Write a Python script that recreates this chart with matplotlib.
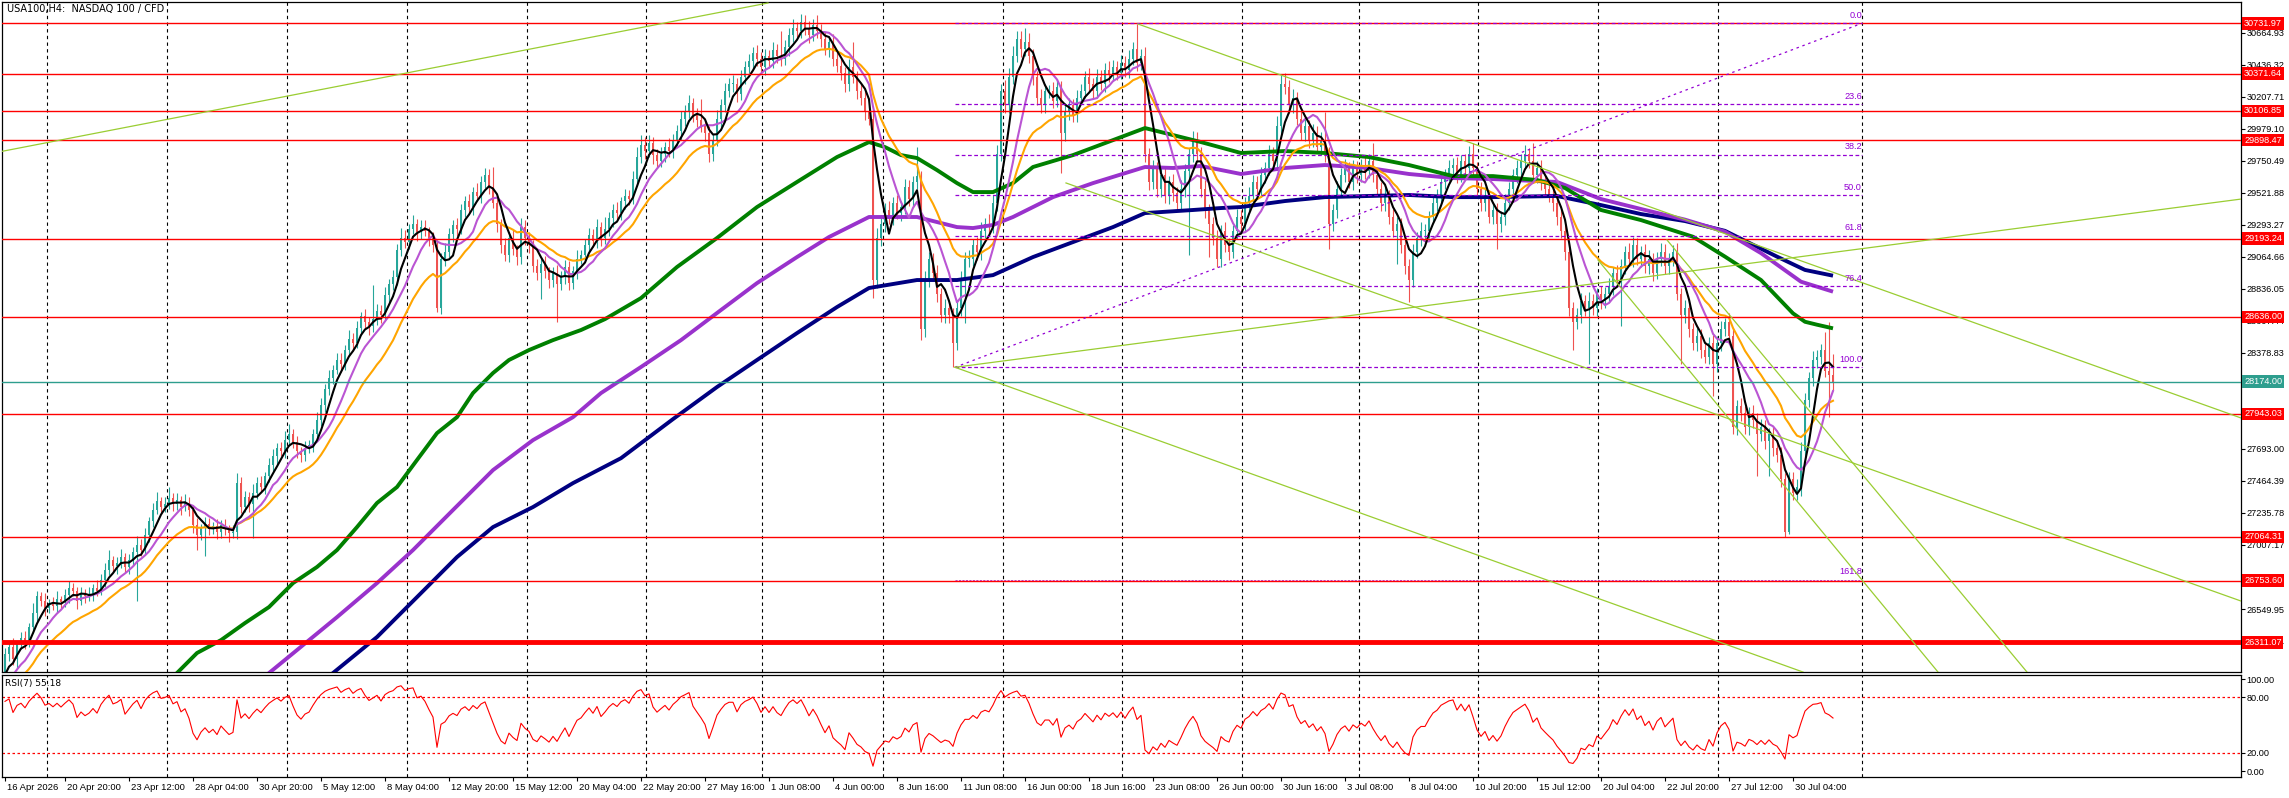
import numpy as np
import pandas as pd
import matplotlib
matplotlib.use("Agg")
import matplotlib.pyplot as plt
from matplotlib.transforms import blended_transform_factory, ScaledTranslation

# H4 closes before the visible window (only seed the averages / RSI)
pre_closes = [25820, 25760, 25700, 25780, 25740, 25820, 25880, 25850, 25800, 25870,
              25930, 25900, 25960, 25920, 25980, 26030, 25990, 26060, 26020, 26100]

# visible H4 closes, read bar by bar
closes = [
    26230, 26280, 26190, 26300, 26340, 26310, 26420, 26520, 26640, 26610, 26560, 26590, 26570, 26620, 26600, 26650, 26700, 26680, 26610, 26660,
    26640, 26660, 26700, 26680, 26760, 26830, 26900, 26860, 26880, 26920, 26850, 26900, 26960, 27010, 26970, 27080, 27180, 27260, 27320, 27280,
    27300, 27340, 27300, 27330, 27280, 27310, 27260, 27150, 27080, 27130, 27160, 27120, 27140, 27100, 27150, 27120, 27090, 27100, 27450, 27280,
    27350, 27300, 27380, 27450, 27420, 27500, 27580, 27640, 27700, 27680, 27760, 27800, 27740, 27680, 27650, 27700, 27720, 27800, 27900, 28010,
    28120, 28200, 28260, 28330, 28300, 28400, 28480, 28450, 28560, 28640, 28600, 28570, 28620, 28680, 28650, 28790, 28870, 28920, 29110, 29200,
    29170, 29260, 29300, 29240, 29280, 29250, 29200, 29150, 28700, 29050, 29100, 29230, 29290, 29260, 29400, 29460, 29420, 29530, 29500, 29600,
    29650, 29560, 29450, 29300, 29150, 29080, 29200, 29120, 29060, 29280, 29200, 29150, 29000, 28950, 29010, 28960, 28900, 28950, 28870, 28930,
    28990, 28880, 28960, 29050, 29080, 29150, 29220, 29180, 29280, 29200, 29260, 29340, 29400, 29380, 29460, 29500, 29480, 29620, 29780, 29860,
    29820, 29880, 29790, 29750, 29800, 29850, 29820, 29900, 29960, 30050, 30100, 30160, 30080, 30040, 30000, 29950, 29800, 29900, 30050, 30150,
    30250, 30300, 30300, 30230, 30350, 30420, 30460, 30520, 30480, 30420, 30500, 30460, 30540, 30500, 30480, 30560, 30650, 30700, 30680, 30740,
    30700, 30650, 30720, 30680, 30620, 30550, 30600, 30480, 30430, 30380, 30300, 30420, 30350, 30250, 30200, 30100, 30050, 28900, 29200, 29300,
    29400, 29350, 29450, 29380, 29420, 29560, 29480, 29600, 29640, 28550, 28900, 29050, 28950, 28800, 28650, 28700, 28650, 28450, 28700, 28900,
    29050, 29050, 29150, 29100, 29250, 29300, 29280, 29450, 29800, 30250, 30150, 30350, 30500, 30620, 30550, 30600, 30500, 30350, 30200, 30150,
    30250, 30250, 30180, 30280, 29950, 30100, 30150, 30080, 30200, 30250, 30350, 30300, 30250, 30350, 30300, 30400, 30370, 30420, 30380, 30450,
    30400, 30480, 30550, 30450, 30500, 29800, 29600, 29700, 29550, 29650, 29500, 29600, 29520, 29450, 29550, 29680, 29800, 29900, 29800, 29550,
    29400, 29300, 29200, 29050, 29250, 29150, 29100, 29250, 29350, 29300, 29450, 29500, 29600, 29550, 29650, 29700, 29800, 29750, 30000, 30300,
    30280, 30150, 30200, 30050, 29950, 30000, 29900, 29950, 29850, 29900, 29800, 29300, 29400, 29550, 29650, 29700, 29600, 29700, 29650, 29720,
    29680, 29750, 29650, 29550, 29450, 29500, 29350, 29250, 29300, 29150, 29000, 28900, 29100, 29200, 29250, 29250, 29350, 29450, 29500, 29600,
    29650, 29700, 29720, 29650, 29750, 29700, 29800, 29700, 29550, 29450, 29500, 29350, 29400, 29300, 29350, 29450, 29550, 29650, 29700, 29750,
    29800, 29750, 29650, 29700, 29600, 29550, 29500, 29450, 29350, 29250, 29100, 28700, 28600, 28650, 28750, 28700, 28750, 28700, 28800, 28750,
    28800, 28850, 28950, 28900, 29000, 29100, 29050, 29150, 29050, 29100, 29000, 29050, 28950, 29050, 29100, 29000, 29050, 29100, 28800, 28650,
    28700, 28550, 28450, 28500, 28400, 28350, 28450, 28300, 28450, 28550, 28600, 28500, 27850, 28000, 27950, 27850, 27950, 27900, 27800, 27850,
    27750, 27800, 27700, 27650, 27480, 27100, 27480, 27380, 27420, 27680, 28040, 28200, 28330, 28350, 28400, 28250, 28220, 28174,
]

# upper / lower shadow length of every candle (price points)
wick_up = [
    40, 30, 60, 25, 45, 50, 30, 70, 40, 35, 55, 30, 45, 60, 25, 40, 50, 35, 30, 45,
    35, 50, 30, 60, 40, 45, 70, 30, 40, 55, 30, 45, 35, 60, 40, 50, 30, 45, 65, 30,
    50, 80, 35, 45, 30, 60, 40, 35, 50, 30, 45, 40, 30, 55, 35, 45, 30, 50, 70, 40,
    45, 35, 60, 40, 50, 30, 45, 55, 35, 40, 60, 70, 35, 45, 30, 50, 40, 35, 60, 45,
    40, 55, 30, 45, 50, 35, 60, 40, 45, 30, 50, 35, 240, 45, 40, 60, 35, 50, 45, 70,
    55, 40, 60, 35, 45, 50, 30, 40, 35, 45, 60, 40, 35, 50, 45, 40, 55, 35, 60, 45,
    50, 40, 146, 45, 35, 50, 40, 55, 30, 60, 45, 40, 35, 50, 45, 60, 30, 40, 55, 35,
    50, 45, 40, 60, 35, 45, 50, 40, 55, 30, 90, 45, 40, 55, 35, 50, 45, 60, 70, 75,
    60, 55, 40, 45, 50, 35, 60, 40, 45, 55, 50, 60, 40, 45, 150, 40, 50, 45, 60, 40,
    55, 45, 60, 40, 50, 45, 55, 40, 60, 45, 50, 40, 55, 45, 180, 50, 45, 60, 40, 55,
    50, 45, 40, 70, 45, 50, 40, 55, 45, 50, 40, 60, 180, 45, 50, 60, 40, 55, 70, 60,
    50, 60, 45, 55, 40, 60, 50, 45, 210, 40, 60, 50, 45, 55, 40, 60, 45, 50, 55, 60,
    50, 60, 45, 55, 60, 40, 70, 55, 60, 50, 80, 60, 70, 60, 55, 100, 60, 50, 45, 60,
    50, 45, 60, 55, 40, 60, 50, 45, 55, 50, 40, 60, 45, 55, 50, 45, 60, 50, 45, 55,
    50, 60, 45, 180, 50, 60, 45, 55, 40, 60, 50, 45, 55, 40, 60, 50, 45, 60, 55, 50,
    60, 45, 50, 55, 40, 60, 50, 45, 55, 50, 45, 60, 50, 40, 55, 45, 60, 50, 70, 60,
    80, 50, 60, 45, 55, 50, 45, 60, 50, 55, 200, 50, 45, 55, 50, 60, 45, 55, 50, 45,
    55, 50, 130, 45, 50, 60, 45, 55, 50, 45, 60, 50, 55, 45, 60, 50, 45, 55, 50, 60,
    45, 55, 50, 60, 45, 50, 55, 80, 45, 50, 60, 45, 55, 50, 45, 60, 50, 45, 55, 50,
    60, 45, 130, 50, 55, 45, 50, 60, 45, 55, 50, 60, 45, 50, 55, 45, 60, 50, 45, 55,
    50, 60, 45, 55, 50, 45, 60, 55, 50, 45, 55, 60, 45, 50, 60, 55, 45, 50, 60, 45,
    55, 50, 45, 60, 50, 55, 45, 60, 50, 55, 30, 60, 50, 45, 55, 50, 45, 60, 50, 55,
    50, 45, 60, 50, 55, 40, 50, 45, 55, 60, 50, 45, 60, 50, 45, 130, 350, 150,
]
wick_dn = [
    30, 50, 40, 60, 35, 45, 30, 40, 55, 35, 60, 40, 30, 50, 45, 35, 55, 40, 60, 30,
    45, 35, 50, 40, 30, 55, 40, 45, 60, 35, 40, 50, 45, 350, 40, 35, 50, 45, 30, 55,
    40, 35, 50, 45, 60, 30, 45, 55, 110, 40, 200, 45, 35, 50, 40, 45, 60, 35, 50, 45,
    40, 55, 240, 45, 35, 50, 40, 45, 60, 35, 50, 45, 40, 55, 50, 45, 35, 50, 40, 45,
    55, 40, 45, 35, 60, 45, 40, 55, 35, 50, 45, 60, 40, 45, 55, 35, 50, 45, 60, 40,
    45, 50, 35, 60, 45, 40, 55, 50, 30, 45, 50, 40, 60, 45, 35, 50, 45, 55, 40, 50,
    45, 50, 40, 55, 60, 45, 50, 40, 55, 45, 50, 60, 45, 50, 190, 45, 55, 50, 270, 45,
    60, 50, 45, 55, 40, 50, 60, 45, 50, 55, 45, 50, 60, 45, 50, 55, 45, 40, 50, 45,
    55, 45, 60, 50, 45, 55, 40, 50, 45, 60, 50, 45, 55, 50, 45, 60, 55, 50, 45, 60,
    50, 45, 55, 60, 45, 50, 40, 55, 50, 45, 60, 50, 45, 55, 50, 45, 60, 50, 45, 55,
    50, 60, 45, 50, 55, 45, 60, 50, 45, 55, 60, 50, 45, 55, 50, 60, 45, 130, 60, 55,
    60, 50, 55, 45, 60, 50, 55, 60, 50, 80, 60, 50, 55, 60, 50, 55, 60, 175, 50, 60,
    310, 60, 50, 55, 60, 50, 55, 45, 60, 50, 60, 55, 50, 45, 60, 50, 55, 60, 50, 55,
    60, 50, 55, 45, 290, 55, 60, 50, 55, 45, 50, 60, 55, 50, 45, 55, 60, 50, 55, 45,
    50, 55, 45, 60, 50, 60, 55, 50, 60, 55, 50, 60, 55, 50, 45, 60, 600, 55, 50, 60,
    55, 240, 50, 60, 55, 50, 60, 45, 55, 50, 60, 55, 45, 50, 60, 55, 50, 45, 60, 55,
    50, 60, 55, 45, 50, 60, 55, 50, 45, 60, 55, 180, 50, 60, 55, 50, 45, 60, 55, 50,
    60, 55, 50, 45, 60, 55, 50, 45, 240, 60, 55, 160, 50, 45, 60, 55, 50, 45, 60, 55,
    50, 45, 60, 55, 50, 45, 60, 55, 50, 60, 55, 45, 50, 180, 55, 60, 50, 45, 55, 60,
    55, 50, 45, 60, 55, 50, 45, 60, 55, 50, 60, 55, 200, 50, 60, 55, 400, 50, 60, 55,
    50, 60, 55, 45, 330, 55, 50, 60, 45, 55, 50, 60, 55, 45, 50, 60, 55, 50, 45, 350,
    55, 60, 50, 55, 60, 45, 50, 230, 55, 60, 50, 55, 50, 60, 55, 50, 60, 55, 300, 50,
    60, 250, 55, 50, 60, 36, 15, 50, 55, 60, 45, 50, 55, 60, 50, 45, 300, 60,
]

# long moving averages (history before the window)
ma_green_bars = [40, 43, 48, 54, 60, 66, 72, 78, 83, 88, 93, 98, 103, 108, 113, 117, 122, 126, 131, 137,
                 144, 150, 159, 168, 178, 188, 198, 208, 216, 220, 224, 228, 233, 238, 242, 247, 252, 257,
                 267, 277, 285, 292, 299, 309, 320, 330, 341, 351, 362, 372, 383, 390, 399, 409, 422, 430,
                 439, 447, 450, 453, 457]
ma_green = [26010, 26093, 26236, 26328, 26450, 26564, 26735, 26850, 26971, 27135, 27307, 27421, 27614, 27806,
            27920, 28092, 28235, 28328, 28399, 28470, 28542, 28620, 28770, 28992, 29199, 29420, 29599, 29777,
            29884, 29848, 29791, 29770, 29684, 29591, 29527, 29527, 29591, 29706, 29791, 29898, 29984, 29934,
            29884, 29806, 29820, 29806, 29777, 29720, 29641, 29641, 29613, 29556, 29399, 29327, 29208, 29066,
            28899, 28661, 28601, 28580, 28554]
ma_purple_bars = [63, 66, 73, 83, 93, 102, 112, 122, 132, 142, 149, 159, 169, 179, 188, 198, 206, 216, 228,
                  238, 242, 247, 252, 262, 272, 285, 292, 299, 309, 320, 330, 341, 351, 362, 372, 388, 399,
                  409, 420, 430, 439, 449, 457]
ma_purple = [26000, 26093, 26257, 26492, 26735, 26971, 27257, 27542, 27756, 27920, 28092, 28278, 28470, 28685,
             28877, 29063, 29206, 29349, 29349, 29277, 29270, 29292, 29349, 29491, 29591, 29706, 29699, 29713,
             29656, 29699, 29720, 29699, 29656, 29627, 29620, 29599, 29477, 29406, 29330, 29244, 29091, 28887,
             28816]
ma_navy_bars = [78, 82, 93, 103, 113, 122, 132, 142, 154, 167, 178, 188, 198, 208, 216, 228, 238, 247, 257,
                267, 277, 285, 297, 304, 309, 320, 330, 341, 351, 362, 372, 388, 399, 409, 420, 430, 443,
                450, 457]
ma_navy = [26000, 26093, 26350, 26635, 26921, 27135, 27278, 27449, 27627, 27906, 28135, 28328, 28520, 28706,
           28842, 28899, 28899, 28934, 29063, 29170, 29277, 29377, 29399, 29413, 29420, 29463, 29491, 29499,
           29506, 29491, 29491, 29499, 29434, 29370, 29320, 29250, 29066, 28971, 28930]

red_levels = [30731.97, 30371.64, 30106.85, 29898.47, 29193.24, 28636.00, 27943.03, 27064.31, 26753.60, 26311.07]
bold_level = 26311.07
last_price = 28174.00

fib_start, fib_end = 237.5, 464.25
fib_high, fib_low = 30731.97, 28276.0
fib_levels = [0.0, 23.6, 38.2, 50.0, 61.8, 76.4, 100.0, 161.8]

# trend lines: (bar0, price0, bar1, price1)
trend_lines = [
    (-1.25, 29815, 190.75, 30877),
    (283.25, 30727, 559.0, 27914),
    (237.5, 28276, 559.0, 29477),
    (237.5, 28276, 449.5, 26100),
    (265.25, 29592, 559.0, 26607),
    (398.25, 29042, 483.25, 26100),
    (415.5, 29185, 505.5, 26100),
]

grid_bars = [10.5, 40.5, 70.5, 100.5, 130.5, 160.25, 189.25, 219.5, 249.5, 279.25, 309.25,
             338.5, 368.25, 398.25, 428.25, 464.25]

x_labels = ["16 Apr 2026", "20 Apr 20:00", "23 Apr 12:00", "28 Apr 04:00", "30 Apr 20:00",
            "5 May 12:00", "8 May 04:00", "12 May 20:00", "15 May 12:00", "20 May 04:00",
            "22 May 20:00", "27 May 16:00", "1 Jun 08:00", "4 Jun 00:00", "8 Jun 16:00",
            "11 Jun 08:00", "16 Jun 00:00", "18 Jun 16:00", "23 Jun 08:00", "26 Jun 00:00",
            "30 Jun 16:00", "3 Jul 08:00", "8 Jul 04:00", "10 Jul 20:00", "15 Jul 12:00",
            "20 Jul 04:00", "22 Jul 20:00", "27 Jul 12:00", "30 Jul 04:00"]

n = len(closes)
if len(wick_up) != n or len(wick_dn) != n:
    raise ValueError(f"length mismatch {n} {len(wick_up)} {len(wick_dn)}")

plt.rcParams['font.family'] = ['Liberation Sans', 'DejaVu Sans']
AXIS_FS = 6.6

bars = np.arange(n)
c = np.array(closes, dtype=float)
o = np.array([pre_closes[-1]] + closes[:-1], dtype=float)
hi = np.maximum(o, c) + np.array(wick_up)
lo = np.minimum(o, c) - np.array(wick_dn)

full = pd.Series(pre_closes + closes, dtype=float)
k = len(pre_closes)
sma5 = full.rolling(5).mean().values[k:]
sma10 = full.rolling(10).mean().values[k:]
ema20 = full.ewm(span=20, adjust=False).mean().values[k:]
d = full.diff()
up = d.clip(lower=0).ewm(alpha=1 / 7, adjust=False).mean()
dn = (-d.clip(upper=0)).ewm(alpha=1 / 7, adjust=False).mean()
rsi = (100 - 100 / (1 + up / dn)).values[k:]

W, H = 2289, 798
fig = plt.figure(figsize=(W / 100, H / 100), dpi=100)
ax = fig.add_axes([2 / W, 1 - 672 / H, 2239 / W, 670 / H])
ax_rsi = fig.add_axes([2 / W, 1 - 777 / H, 2239 / W, 102 / H], sharex=ax)

ax.set_xlim(-0.75, 559.0)
ax.set_ylim(26100.3, 30884.1)
ax_rsi.set_ylim(-6.52, 104.35)

for a in (ax, ax_rsi):
    for gb in grid_bars:
        a.axvline(gb, color='black', lw=0.8, ls=(0, (3, 3)), zorder=1)
    for s in a.spines.values():
        s.set_color('black')
        s.set_linewidth(0.9)

# candles
bull = c >= o
col = np.where(bull, '#26A69A', '#EF5350')
ax.vlines(bars, lo, hi, colors=col, lw=0.8, zorder=2)
ax.bar(bars, np.maximum(np.abs(c - o), 6), bottom=np.minimum(o, c), width=0.72, color=col, lw=0, zorder=2)

# moving averages
ax.plot(ma_navy_bars, ma_navy, color='#000080', lw=2.8, zorder=3, solid_capstyle='butt')
ax.plot(ma_purple_bars, ma_purple, color='#9932CC', lw=2.8, zorder=3, solid_capstyle='butt')
ax.plot(ma_green_bars, ma_green, color='#008000', lw=2.8, zorder=3, solid_capstyle='butt')
ax.plot(bars, ema20, color='#FFA500', lw=1.5, zorder=3)
ax.plot(bars, sma10, color='#BA55D3', lw=1.5, zorder=3)
ax.plot(bars, sma5, color='black', lw=1.5, zorder=3)

# horizontal levels
for lvl in red_levels:
    ax.axhline(lvl, color='#FF0000', lw=3.5 if lvl == bold_level else 1.0, zorder=4)
ax.axhline(last_price, color='#2E9E8E', lw=1.0, zorder=4)

# fibonacci (the 161.8 level is hidden underneath the red level line)
rng = fib_high - fib_low
for f in fib_levels:
    p = fib_high - rng * f / 100
    if f > 100:
        ax.plot([fib_start, fib_end], [p, p], color='#9400D3', lw=0.5, ls=(0, (3, 2)), zorder=1.5)
    else:
        ax.plot([fib_start, fib_end], [p, p], color='#9400D3', lw=0.9, ls=(0, (3, 2)), zorder=5)
    ax.text(fib_end, p + 25, f"{f:.1f}", color='#9400D3', fontsize=AXIS_FS, ha='right', va='bottom', zorder=6)
ax.plot([fib_start, fib_end], [fib_low, fib_high], color='#9400D3', lw=0.9, ls=(0, (2, 3)), zorder=5)

for b0, p0, b1, p1 in trend_lines:
    ax.plot([b0, b1], [p0, p1], color='#9ACD32', lw=0.9, zorder=5)

# price axis
price_ticks = [30664.93 - 228.61 * i for i in range(20)]
ax.yaxis.tick_right()
ax.set_yticks(price_ticks)
ax.set_yticklabels([f"{t:.2f}" for t in price_ticks])
ax.tick_params(axis='y', length=3, width=0.8, pad=1, labelsize=AXIS_FS, colors='black')
ax.tick_params(axis='x', length=0, labelbottom=False)
tr = blended_transform_factory(ax.transAxes, ax.transData)
for lvl in red_levels:
    ax.text(1.0 + 3 / 2239, lvl, f"{lvl:.2f}", transform=tr, ha='left', va='center', color='white',
            fontsize=AXIS_FS, clip_on=False, zorder=10,
            bbox=dict(boxstyle='square,pad=0.2', fc='#FF0000', ec='none'))
ax.text(1.0 + 3 / 2239, last_price, f"{last_price:.2f}", transform=tr, ha='left', va='center',
        color='white', fontsize=AXIS_FS, clip_on=False, zorder=10,
        bbox=dict(boxstyle='square,pad=0.2', fc='#2E9E8E', ec='none'))

fig.text(7 / W, 1 - 4 / H, "USA100,H4:  NASDAQ 100 / CFD", fontsize=7, va='top', ha='left',
         family='DejaVu Sans')

# RSI panel
ax_rsi.plot(bars, rsi, color='#FF0000', lw=0.8, zorder=3)
for lvl in (80, 20):
    ax_rsi.axhline(lvl, color='#FF0000', lw=0.9, ls=(0, (2, 2)), zorder=2)
ax_rsi.yaxis.tick_right()
ax_rsi.set_yticks([100, 80, 20, 0])
ax_rsi.set_yticklabels(['100.00', '80.00', '20.00', '0.00'])
ax_rsi.tick_params(axis='y', length=3, width=0.8, pad=1, labelsize=AXIS_FS)
ax_rsi.text(3 / 2239, 0.96, "RSI(7) 55.18", transform=ax_rsi.transAxes, fontsize=6.5, va='top',
            ha='left', family='DejaVu Sans')

label_bars = [0] + [15 + 16 * i for i in range(len(x_labels) - 1)]
ax_rsi.set_xticks(label_bars)
ax_rsi.set_xticklabels(x_labels, ha='left')
ax_rsi.tick_params(axis='x', length=3, width=0.8, pad=1, labelsize=6.8)
shift = ScaledTranslation(2 / 100, 0, fig.dpi_scale_trans)
for t in ax_rsi.get_xticklabels():
    t.set_transform(t.get_transform() + shift)

fig.savefig("out.png", dpi=100)
